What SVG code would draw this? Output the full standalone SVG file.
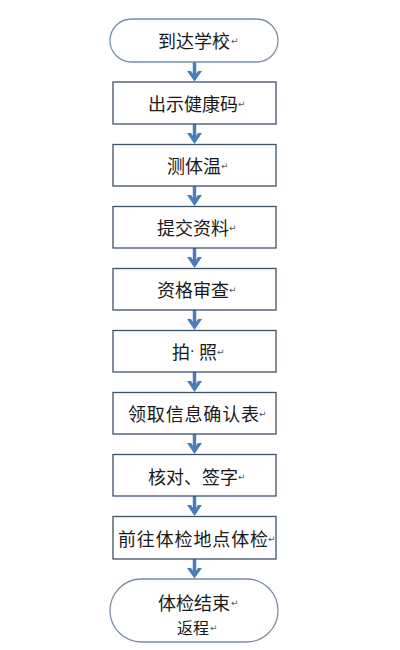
<svg xmlns="http://www.w3.org/2000/svg" width="400" height="650" viewBox="0 0 400 650">
<defs>
<style>
.term{fill:#ffffff;stroke:#7b8ea3;stroke-width:1.3}
.box{fill:#ffffff;stroke:#3f5266;stroke-width:1.3}
.t{font-family:"Noto Sans CJK SC","Noto Sans",sans-serif;font-size:18px;fill:#1a1a1a;dominant-baseline:central}
.t2{font-size:16px}
.dot{font-family:"DejaVu Sans",sans-serif;font-size:14px}
.r{font-family:"DejaVu Sans",sans-serif;font-size:9px;fill:#555555}
.arrow{stroke:#4a7ebb;stroke-width:3.5;fill:none}
.head{fill:#4a7ebb}
</style>
</defs>
<rect width="400" height="650" fill="#ffffff"/>
<g id="connectors">
<g id="a1"><line class="arrow" x1="194.5" y1="62" x2="194.5" y2="76"/><path class="head" d="M187,71 L194.5,81.5 L202,71 L198,71 L194.5,76 L191,71 Z"/></g>
<g id="a2"><line class="arrow" x1="194.5" y1="124" x2="194.5" y2="139"/><path class="head" d="M187,133 L194.5,144 L202,133 L198,133 L194.5,138 L191,133 Z"/></g>
<g id="a3"><line class="arrow" x1="194.5" y1="186" x2="194.5" y2="201"/><path class="head" d="M187,195 L194.5,206 L202,195 L198,195 L194.5,200 L191,195 Z"/></g>
<g id="a4"><line class="arrow" x1="194.5" y1="248" x2="194.5" y2="263"/><path class="head" d="M187,257 L194.5,268 L202,257 L198,257 L194.5,262 L191,257 Z"/></g>
<g id="a5"><line class="arrow" x1="194.5" y1="310" x2="194.5" y2="325"/><path class="head" d="M187,319 L194.5,330 L202,319 L198,319 L194.5,324 L191,319 Z"/></g>
<g id="a6"><line class="arrow" x1="194.5" y1="372" x2="194.5" y2="387"/><path class="head" d="M187,381 L194.5,392 L202,381 L198,381 L194.5,386 L191,381 Z"/></g>
<g id="a7"><line class="arrow" x1="194.5" y1="434" x2="194.5" y2="449"/><path class="head" d="M187,443 L194.5,454 L202,443 L198,443 L194.5,448 L191,443 Z"/></g>
<g id="a8"><line class="arrow" x1="194.5" y1="496" x2="194.5" y2="511"/><path class="head" d="M187,505 L194.5,516 L202,505 L198,505 L194.5,510 L191,505 Z"/></g>
<g id="a9"><line class="arrow" x1="194.5" y1="559" x2="194.5" y2="573"/><path class="head" d="M187,568 L194.5,578.5 L202,568 L198,568 L194.5,573 L191,568 Z"/></g>
</g>
<g id="n0"><rect class="term" x="110" y="19" width="168" height="43" rx="21.5"/><text class="t" x="158" y="40">到达学校</text><text class="r" x="231" y="44">↵</text></g>
<g id="n1"><rect class="box" x="113" y="82" width="163" height="42"/><text class="t" x="148" y="103">出示健康码</text><text class="r" x="238" y="107">↵</text></g>
<g id="n2"><rect class="box" x="113" y="144.5" width="163" height="41.5"/><text class="t" x="167" y="165">测体温</text><text class="r" x="221" y="169">↵</text></g>
<g id="n3"><rect class="box" x="113" y="206.5" width="163" height="41.5"/><text class="t" x="157" y="227">提交资料</text><text class="r" x="229" y="231">↵</text></g>
<g id="n4"><rect class="box" x="113" y="268.5" width="163" height="41.5"/><text class="t" x="157" y="289">资格审查</text><text class="r" x="229" y="293">↵</text></g>
<g id="n5"><rect class="box" x="113" y="330.5" width="163" height="41.5"/><text class="t" x="172" y="351">拍<tspan class="dot" x="190">·</tspan><tspan x="199">照</tspan></text><text class="r" x="217" y="355">↵</text></g>
<g id="n6"><rect class="box" x="113" y="392.5" width="163" height="41.5"/><text class="t" x="128" y="413" textLength="131">领取信息确认表</text><text class="r" x="259" y="417">↵</text></g>
<g id="n7"><rect class="box" x="113" y="454.5" width="163" height="41.5"/><text class="t" x="148" y="476">核对、签字</text><text class="r" x="238" y="480">↵</text></g>
<g id="n8"><rect class="box" x="113" y="516.5" width="163" height="42.5"/><text class="t" x="118" y="538" textLength="150">前往体检地点体检</text><text class="r" x="268" y="542">↵</text></g>
<g id="n9"><rect class="term" x="110" y="579" width="168" height="63" rx="31.5"/><text class="t" x="158" y="602">体检结束</text><text class="r" x="231" y="606">↵</text><text class="t t2" x="177" y="627">返程</text><text class="r" x="210" y="631">↵</text></g>
</svg>
